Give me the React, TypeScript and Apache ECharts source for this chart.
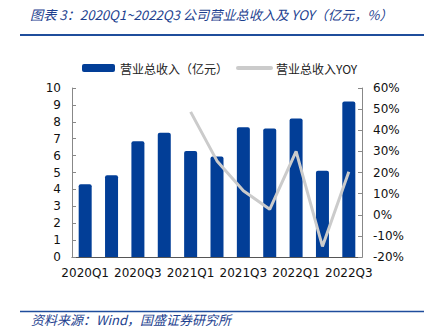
import React, { useEffect, useRef } from "react";
import * as echarts from "echarts";

const categories = ["2020Q1","2020Q2","2020Q3","2020Q4","2021Q1","2021Q2","2021Q3","2021Q4","2022Q1","2022Q2","2022Q3"];
const revenue = [4.3, 4.83, 6.85, 7.35, 6.27, 5.95, 7.68, 7.6, 8.2, 5.1, 9.2];
const yoy: (number | null)[] = [null, null, null, null, 48.7, 25.5, 11.4, 2.6, 30.0, -15.0, 20.4];
const leftTicks = { min: 0, max: 10, interval: 1 };
const rightTicks = { min: -20, max: 60, interval: 10 };

const FONT = "DejaVu Sans, Noto Sans CJK SC, sans-serif";
const CJK = "Noto Sans CJK SC, DejaVu Sans, sans-serif";

export default function App() {
  const ref = useRef<HTMLDivElement>(null);
  useEffect(() => {
    if (!ref.current) return;
    const chart = echarts.init(ref.current, null, { renderer: "svg" });
    chart.setOption({
      animation: false,
      backgroundColor: "#ffffff",
      textStyle: { fontFamily: FONT },
      grid: { left: 72, right: 68, top: 88, bottom: 76, containLabel: false },
      legend: {
        left: 77,
        top: 57,
        itemWidth: 33,
        itemHeight: 8,
        itemGap: 8,
        textStyle: { fontFamily: CJK, fontSize: 12, color: "#222" },
        data: [
          { name: "营业总收入（亿元）", icon: "roundRect" },
          {
            name: "营业总收入YOY",
            itemStyle: { opacity: 0 },
            lineStyle: { width: 4, color: "#cbcbcb", cap: "round" },
          },
        ],
      },
      xAxis: {
        type: "category",
        data: categories,
        boundaryGap: true,
        axisLine: { lineStyle: { color: "#555", width: 1 } },
        axisTick: { inside: true, length: 4, lineStyle: { color: "#888" } },
        axisLabel: { interval: 1, fontSize: 12, color: "#111", margin: 10, fontFamily: FONT },
      },
      yAxis: [
        {
          type: "value",
          ...leftTicks,
          axisLine: { show: true, lineStyle: { color: "#888" } },
          axisTick: { show: true, inside: true, length: 4, lineStyle: { color: "#888" } },
          splitLine: { show: false },
          axisLabel: { fontSize: 12, color: "#111", margin: 11, fontFamily: FONT },
        },
        {
          type: "value",
          ...rightTicks,
          position: "right",
          axisLine: { show: true, lineStyle: { color: "#888" } },
          axisTick: { show: true, inside: true, length: 4, lineStyle: { color: "#888" } },
          splitLine: { show: false },
          axisLabel: { fontSize: 12, color: "#111", margin: 11, formatter: "{value}%", fontFamily: FONT },
        },
      ],
      series: [
        {
          name: "营业总收入（亿元）",
          type: "bar",
          data: revenue,
          barWidth: 13,
          itemStyle: { color: "#023e97", borderRadius: [2, 2, 0, 0] },
        },
        {
          name: "营业总收入YOY",
          type: "line",
          yAxisIndex: 1,
          data: yoy,
          symbol: "none",
          connectNulls: false,
          lineStyle: { color: "#cbcbcb", width: 3 },
          itemStyle: { color: "#cbcbcb" },
        },
      ],
      graphic: [
        {
          type: "text",
          left: 30,
          top: 8,
          style: {
            text: "图表 3：2020Q1~2022Q3 公司营业总收入及 YOY（亿元，%）",
            fontFamily: CJK,
            fontStyle: "italic",
            fontSize: 13.2,
            fill: "#1d3f8f",
          },
        },
        {
          type: "line",
          shape: { x1: 20, y1: 35, x2: 424, y2: 35 },
          style: { stroke: "#1f4d9c", lineWidth: 2 },
        },
        {
          type: "line",
          shape: { x1: 20, y1: 311.5, x2: 424, y2: 311.5 },
          style: { stroke: "#1f4d9c", lineWidth: 1.5 },
        },
        {
          type: "text",
          left: 31,
          top: 313,
          style: {
            text: "资料来源：Wind，国盛证券研究所",
            fontFamily: CJK,
            fontStyle: "italic",
            fontSize: 13,
            fill: "#1d3f8f",
          },
        },
      ],
    });
    return () => chart.dispose();
  }, []);
  return <div ref={ref} style={{ width: 430, height: 333, position: "absolute", left: 0, top: 0 }} />;
}
